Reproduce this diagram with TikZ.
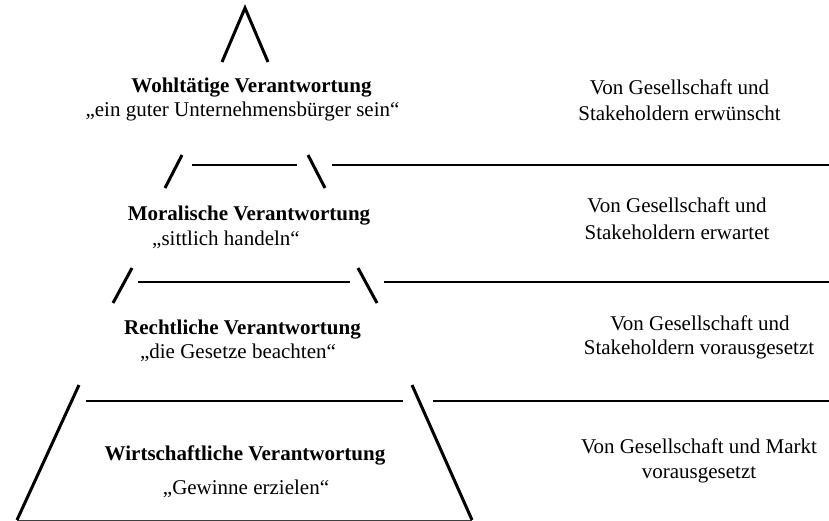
\documentclass[tikz,border=0pt]{standalone}
\usepackage{fontspec}
\setmainfont{Liberation Serif}
\begin{document}
\begin{tikzpicture}[x=1pt,y=-1pt,
  leg/.style={line width=3pt},
  tier/.style={line width=1.7pt},
  base/.style={line width=0.9pt,draw=black!75},
  txt/.style={anchor=base,inner sep=0pt,font=\fontsize{21}{25}\selectfont},
  ttl/.style={txt,font=\fontsize{21}{25}\selectfont\bfseries}]
\useasboundingbox (0,0) rectangle (829,521);
% apex
\coordinate (a1) at (222,62); \coordinate (a2) at (245,8); \coordinate (a3) at (268,62);
\draw[leg] (a1) -- (a2) -- (a3);
% tier 1
\coordinate (b1) at (165,188); \coordinate (b2) at (182,155);
\coordinate (b3) at (308,155); \coordinate (b4) at (325,188);
\coordinate (h1l) at (192,165); \coordinate (h1r) at (297,165);
\coordinate (r1l) at (332,165); \coordinate (r1r) at (829,165);
\draw[leg] (b1) -- (b2);
\draw[leg] (b3) -- (b4);
\draw[tier] (h1l) -- (h1r);
\draw[tier] (r1l) -- (r1r);
% tier 2
\coordinate (c1) at (113,303); \coordinate (c2) at (132,268);
\coordinate (c3) at (358,268); \coordinate (c4) at (377,303);
\coordinate (h2l) at (138,282); \coordinate (h2r) at (350,282);
\coordinate (r2l) at (384,282); \coordinate (r2r) at (829,282);
\draw[leg] (c1) -- (c2);
\draw[leg] (c3) -- (c4);
\draw[tier] (h2l) -- (h2r);
\draw[tier] (r2l) -- (r2r);
% tier 3 (base)
\coordinate (d1) at (17,520); \coordinate (d2) at (79,385);
\coordinate (d3) at (412,385); \coordinate (d4) at (472,520);
\coordinate (h3l) at (86,401); \coordinate (h3r) at (403,401);
\coordinate (r3l) at (433,401); \coordinate (r3r) at (829,401);
\draw[base] (d1) -- (d4);
\draw[leg] (d1) -- (d2);
\draw[leg] (d3) -- (d4);
\draw[tier] (h3l) -- (h3r);
\draw[tier] (r3l) -- (r3r);
% left texts
\node[ttl] (t1) at (251.5,93) {Wohltätige Verantwortung};
\node[txt] (s1) at (242.5,117) {„ein guter Unternehmensbürger sein“};
\node[ttl] (t2) at (249,221) {Moralische Verantwortung};
\node[txt] (s2) at (226,246) {„sittlich handeln“};
\node[ttl] (t3) at (242.5,334) {Rechtliche Verantwortung};
\node[txt] (s3) at (238,358) {„die Gesetze beachten“};
\node[ttl] (t4) at (245,460) {Wirtschaftliche Verantwortung};
\node[txt] (s4) at (246,494) {„Gewinne erzielen“};
% right texts
\node[txt] (e1a) at (679.5,95) {Von Gesellschaft und};
\node[txt] (e1b) at (679.5,121) {Stakeholdern erwünscht};
\node[txt] (e2a) at (677,213) {Von Gesellschaft und};
\node[txt] (e2b) at (677,240) {Stakeholdern erwartet};
\node[txt] (e3a) at (700,330) {Von Gesellschaft und};
\node[txt] (e3b) at (699,354) {Stakeholdern vorausgesetzt};
\node[txt] (e4a) at (699,453) {Von Gesellschaft und Markt};
\node[txt] (e4b) at (699,478) {vorausgesetzt};
\end{tikzpicture}
\end{document}
